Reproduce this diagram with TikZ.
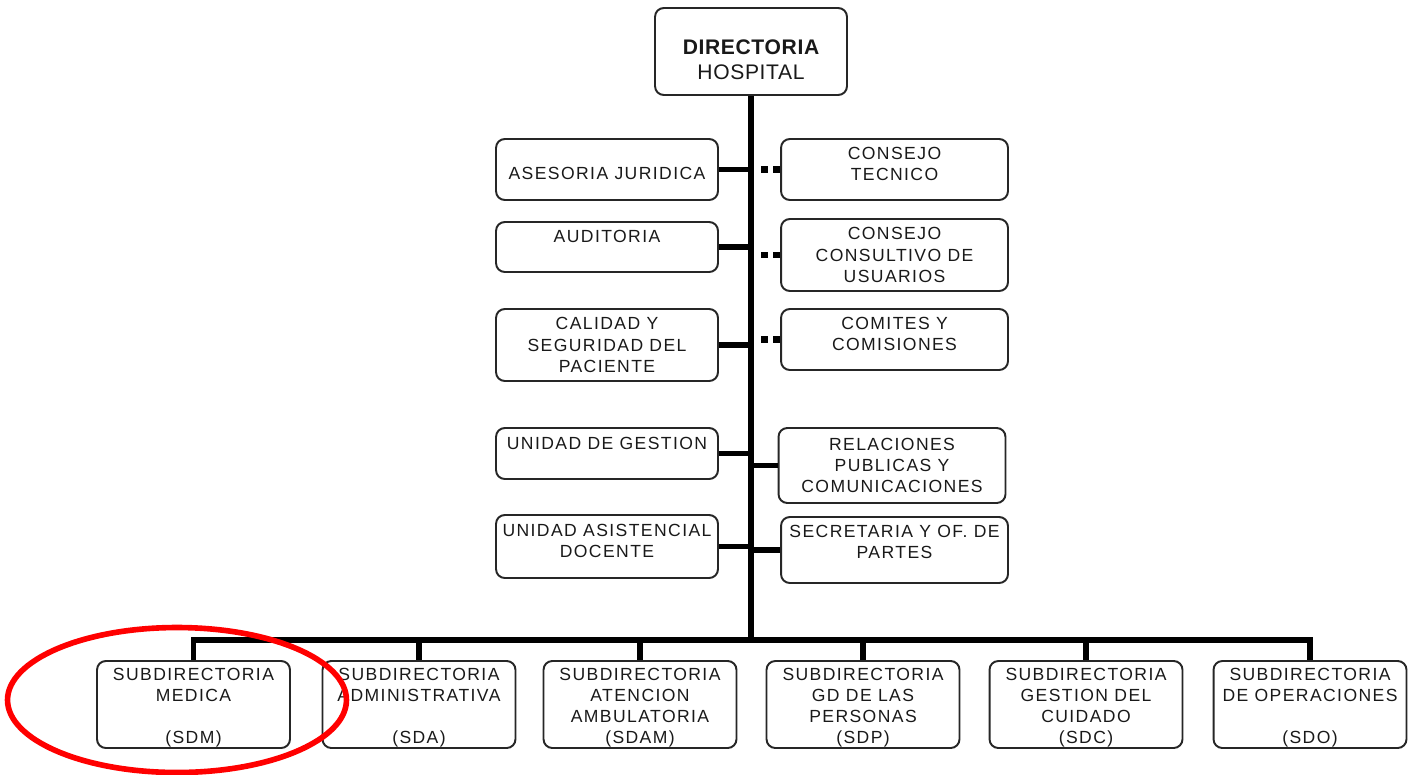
\documentclass[tikz,border=0pt]{standalone}
\usepackage{fontspec}
\newfontfamily\orgfont[LetterSpace=8]{Liberation Sans}
\newfontfamily\headfont[LetterSpace=3]{Liberation Sans}
\newcommand{\pushdown}[1]{\rule{0pt}{#1}}
\tikzset{
    unit/.style={draw=black!85, line width=1.1pt, rounded corners=5pt, align=center,
        inner sep=0pt, text=black!90, font=\orgfont\fontsize{10}{12}\selectfont},
    leftunit/.style={unit, minimum width=4.44cm},
    rightunit/.style={unit, minimum width=4.54cm},
    subunit/.style={unit, minimum width=3.86cm, minimum height=1.74cm},
    textup/.style={execute at end node={\rule[-#1]{0pt}{#1}}},
    link/.style={line width=3pt},
    dotlink/.style={line width=3.5pt, dash pattern=on 4pt off 3pt on 4pt off 20pt}
}

\begin{document}
\begin{tikzpicture}[x=0.02cm, y=-0.02cm]
    \useasboundingbox (0, 0) rectangle (1415, 774);

    \node[unit, minimum width=3.84cm, minimum height=1.74cm,
        font=\headfont\fontsize{12}{14}\selectfont] (dir) at (751, 51.5)
        {\pushdown{18pt}{\bfseries DIRECTORIA}\\HOSPITAL};

    % staff units
    \node[leftunit, minimum height=1.22cm] (jur) at (607, 169.5) {\pushdown{11pt}ASESORIA JURIDICA};
    \node[leftunit, minimum height=1.00cm] (aud) at (607, 247) {AUDITORIA\\\mbox{}};
    \node[leftunit, minimum height=1.44cm] (cal) at (607, 345) {CALIDAD Y\\SEGURIDAD DEL\\PACIENTE};
    \node[leftunit, minimum height=1.02cm] (ges) at (607, 453.5) {UNIDAD DE GESTION\\\mbox{}};
    \node[leftunit, minimum height=1.26cm, textup=6.5pt] (doc) at (607, 546.5) {UNIDAD ASISTENCIAL\\DOCENTE};

    \node[rightunit, minimum height=1.22cm, textup=6pt] (tec) at (894.5, 169.5) {CONSEJO\\TECNICO};
    \node[rightunit, minimum height=1.44cm] (usu) at (894.5, 255) {CONSEJO\\CONSULTIVO DE\\USUARIOS};
    \node[rightunit, minimum height=1.22cm, textup=6.5pt] (com) at (894.5, 339.5) {COMITES Y\\COMISIONES};
    \node[rightunit, minimum height=1.50cm] (rel) at (892, 465.5) {RELACIONES\\PUBLICAS Y\\COMUNICACIONES};
    \node[rightunit, minimum height=1.32cm, textup=9pt] (sec) at (894.5, 550) {SECRETARIA Y OF. DE\\PARTES};

    % subdirecciones
    \node[subunit] (sdm) at (193.5, 704.5) {\pushdown{11pt}SUBDIRECTORIA\\MEDICA\\\mbox{}\\(SDM)};
    \node[subunit] (sda) at (419, 704.5) {\pushdown{11pt}SUBDIRECTORIA\\ADMINISTRATIVA\\\mbox{}\\(SDA)};
    \node[subunit] (sdam) at (640, 704.5) {\pushdown{11pt}SUBDIRECTORIA\\ATENCION\\AMBULATORIA\\(SDAM)};
    \node[subunit] (sdp) at (863, 704.5) {\pushdown{11pt}SUBDIRECTORIA\\GD DE LAS\\PERSONAS\\(SDP)};
    \node[subunit] (sdc) at (1086, 704.5) {\pushdown{11pt}SUBDIRECTORIA\\GESTION DEL\\CUIDADO\\(SDC)};
    \node[subunit] (sdo) at (1310, 704.5) {\pushdown{11pt}SUBDIRECTORIA\\DE OPERACIONES\\\mbox{}\\(SDO)};

    \coordinate (bus) at (751, 640);

    \draw[link] (dir.south) -- (bus);
    \draw[link] (sdm.north) |- (bus) -| (sdo.north);
    \foreach \u in {sda, sdam, sdp, sdc}
        \draw[link] (\u.north) -- (\u.north |- bus);

    \foreach \u in {jur, aud, cal, ges, doc}
        \draw[link] (\u.east) -- (\u.east -| bus);
    \foreach \u in {rel, sec}
        \draw[link] (\u.west) -- (\u.west -| bus);
    \foreach \u in {tec, usu, com}
        \draw[dotlink] (\u.west) -- (\u.west -| bus);

    \draw[red, line width=3.2pt] (177, 700) ellipse [x radius=3.39cm, y radius=1.45cm];
\end{tikzpicture}
\end{document}
